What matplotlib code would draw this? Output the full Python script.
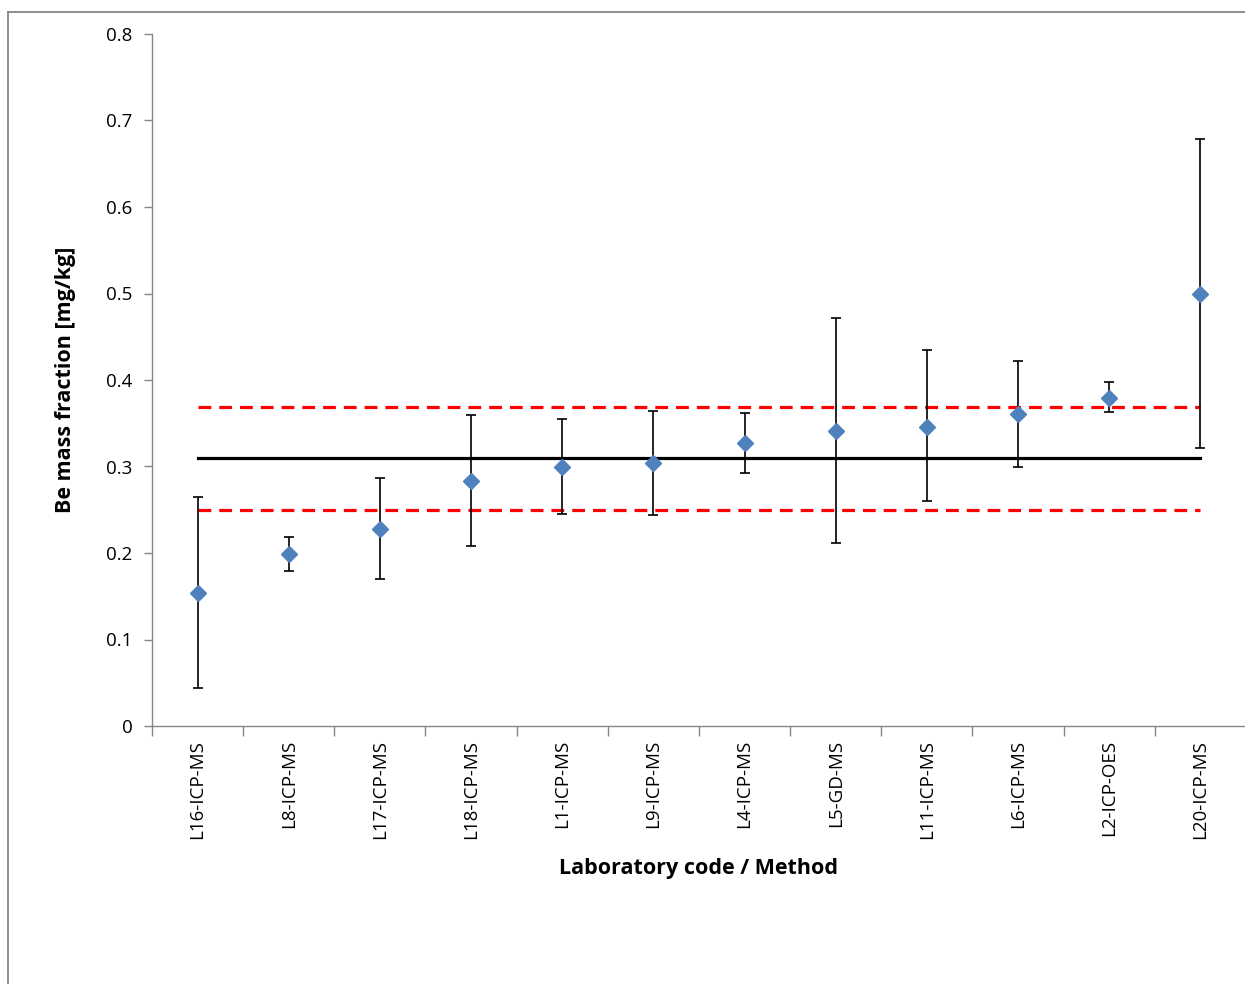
import matplotlib
matplotlib.use("Agg")
import matplotlib.pyplot as plt
from matplotlib.lines import Line2D
import numpy as np

labs = ["L16-ICP-MS", "L8-ICP-MS", "L17-ICP-MS", "L18-ICP-MS", "L1-ICP-MS", "L9-ICP-MS",
        "L4-ICP-MS", "L5-GD-MS", "L11-ICP-MS", "L6-ICP-MS", "L2-ICP-OES", "L20-ICP-MS"]
values = [0.154, 0.199, 0.228, 0.283, 0.299, 0.304, 0.327, 0.341, 0.346, 0.361, 0.379, 0.499]
upper = [0.265, 0.218, 0.287, 0.360, 0.355, 0.364, 0.362, 0.472, 0.435, 0.422, 0.398, 0.679]
lower = [0.044, 0.179, 0.170, 0.208, 0.245, 0.244, 0.292, 0.212, 0.260, 0.299, 0.363, 0.321]
ref_value = 0.31
ref_high = 0.369
ref_low = 0.250

plt.rcParams['font.family'] = ['Open Sans', 'DejaVu Sans']

fig = plt.figure(figsize=(12.45, 9.84), dpi=100)
ax = fig.add_axes([152/1245, 258/984, 1094/1245, 692/984])

x = np.arange(len(labs))
vals = np.array(values)
err = [vals - np.array(lower), np.array(upper) - vals]

ax.plot(x, [ref_value]*len(x), color='black', lw=2.3, zorder=2)
ax.plot(x, [ref_high]*len(x), color='#FF0000', lw=2.3, ls=(0, (4, 2.5)), zorder=2)
ax.plot(x, [ref_low]*len(x), color='#FF0000', lw=2.3, ls=(0, (4, 2.5)), zorder=2)

ax.errorbar(x, vals, yerr=err, fmt='D', color='#4F81BD', markersize=8,
            ecolor='black', elinewidth=1.2, capsize=3.3, capthick=1.2, zorder=3)

ax.set_xlim(-0.5, len(labs) - 0.5)
ax.set_ylim(0, 0.8)
ax.set_yticks(np.arange(0, 0.81, 0.1))
ax.set_yticklabels(["0", "0.1", "0.2", "0.3", "0.4", "0.5", "0.6", "0.7", "0.8"])
ax.set_xticks(np.arange(-0.5, len(labs) - 0.4, 1.0))
ax.set_xticklabels([])
ax.set_xticks(x, minor=True)
ax.set_xticklabels(labs, minor=True, rotation=90, fontsize=13.5)
ax.tick_params(axis='x', which='minor', length=0, pad=10)
ax.tick_params(axis='x', which='major', length=7, color='#868686', width=1)
ax.tick_params(axis='y', length=6, color='#868686', width=1, labelsize=13.5, pad=8)

for s in ['top', 'right']:
    ax.spines[s].set_visible(False)
for s in ['left', 'bottom']:
    ax.spines[s].set_color('#868686')
    ax.spines[s].set_linewidth(1)

ax.set_ylabel("Be mass fraction [mg/kg]", fontsize=15.5, fontweight='bold', labelpad=22)
ax.set_xlabel("Laboratory code / Method", fontsize=15.5, fontweight='bold', labelpad=14)

# chart area border (cropped)
fig.add_artist(Line2D([8/1245, 1.0], [1 - 12/984, 1 - 12/984], transform=fig.transFigure,
                      color='#868686', lw=1.3))
fig.add_artist(Line2D([8/1245, 8/1245], [0, 1 - 12/984], transform=fig.transFigure,
                      color='#868686', lw=1.3))

fig.savefig("out.png", dpi=100)
